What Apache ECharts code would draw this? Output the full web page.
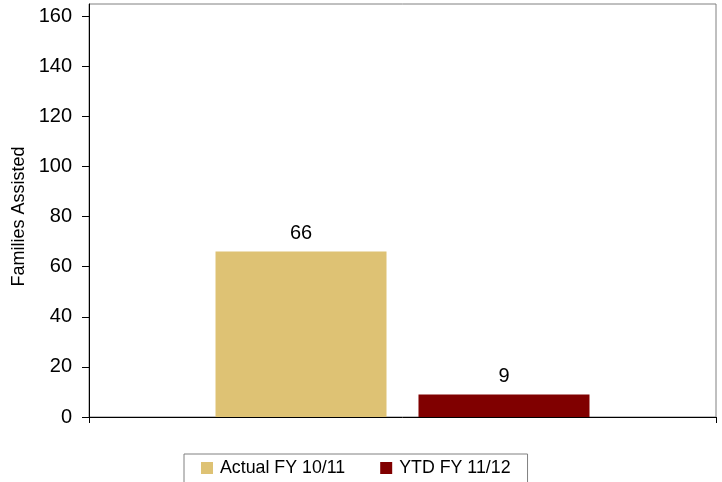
<!DOCTYPE html>
<html>
<head>
<meta charset="utf-8">
<script src="https://cdn.jsdelivr.net/npm/echarts@6/dist/echarts.min.js"></script>
<style>
  html, body { margin: 0; padding: 0; background: #fff; }
  #chart { width: 722px; height: 482px; }
</style>
</head>
<body>
<div id="chart"></div>
<script>
const categories = ['']
const seriesNames = ['Actual FY 10/11', 'YTD FY 11/12']
const actualValues = [66]
const ytdValues = [9]
const yTicks = [0, 20, 40, 60, 80, 100, 120, 140, 160]

const font = 'Liberation Sans, Arial, sans-serif'
const chart = echarts.init(document.getElementById('chart'))

const labelStyle = {
  show: true,
  position: 'top',
  distance: 8,
  color: '#000',
  fontFamily: font,
  fontSize: 20
}

chart.setOption({
  animation: false,
  grid: {
    left: 89,
    right: 6,
    top: 4,
    bottom: 65,
    show: true,
    borderColor: '#808080',
    borderWidth: 1
  },
  legend: {
    data: seriesNames,
    left: 184,
    top: 454,
    padding: [5, 17, 10, 17],
    itemGap: 35,
    itemWidth: 12,
    itemHeight: 12,
    borderColor: '#808080',
    borderWidth: 1,
    icon: 'rect',
    textStyle: { fontFamily: font, fontSize: 17.8, color: '#000', padding: [0, 0, 0, 2] }
  },
  xAxis: {
    type: 'category',
    data: categories,
    axisLine: { lineStyle: { color: '#000', width: 1 } },
    axisTick: { show: true, length: 6, lineStyle: { color: '#000' } },
    axisLabel: { show: false }
  },
  yAxis: {
    type: 'value',
    min: 0,
    max: 164.8,
    name: 'Families Assisted',
    nameLocation: 'middle',
    nameGap: 58,
    nameTextStyle: { fontFamily: font, fontSize: 18, color: '#000', padding: [0, 0, 0, -12] },
    axisLine: { show: true, lineStyle: { color: '#000', width: 1 } },
    axisTick: { show: true, length: 7, customValues: yTicks, lineStyle: { color: '#000' } },
    axisLabel: { customValues: yTicks, margin: 17, fontFamily: font, fontSize: 20, color: '#000' },
    splitLine: { show: false }
  },
  series: [
    {
      name: seriesNames[0],
      type: 'bar',
      data: actualValues,
      barWidth: 171,
      barGap: '18.7%',
      itemStyle: { color: '#DEC274' },
      label: labelStyle
    },
    {
      name: seriesNames[1],
      type: 'bar',
      data: ytdValues,
      barWidth: 171,
      itemStyle: { color: '#800000' },
      label: labelStyle
    }
  ]
})
</script>
</body>
</html>
